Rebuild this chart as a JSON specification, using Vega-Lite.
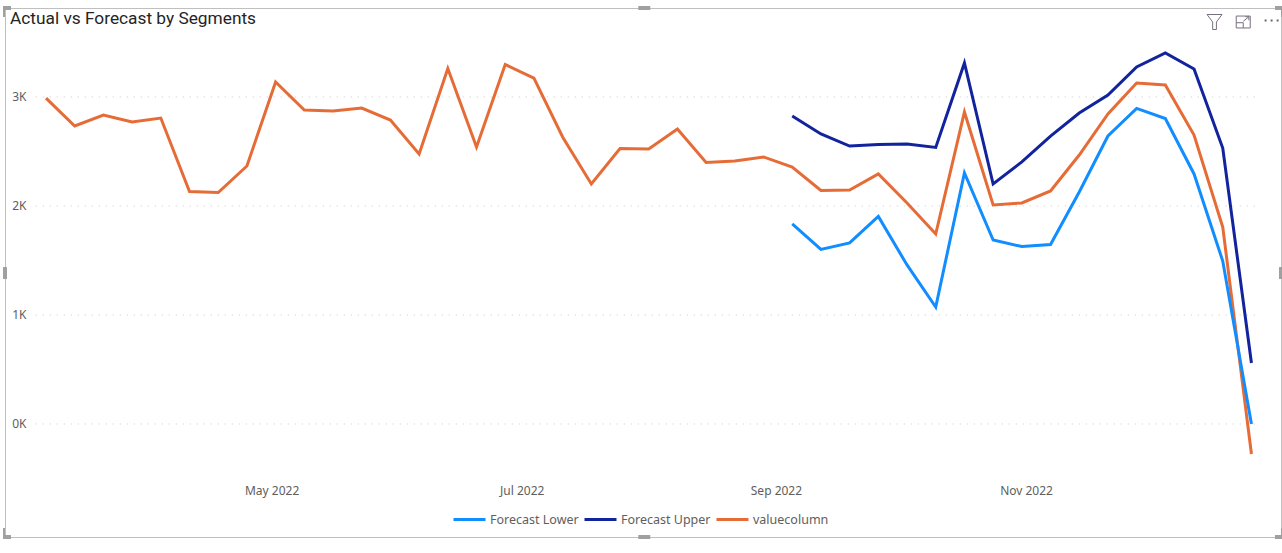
{"$schema":"https://vega.github.io/schema/vega-lite/v6.json","width":1276,"height":529,"autosize":"none","padding":{"left":5,"top":8,"right":1,"bottom":16},"background":"white","title":{"text":"Actual vs Forecast by Segments","anchor":"start","frame":"group","orient":"top","offset":-21,"dx":5,"font":"Roboto","fontSize":17.3,"fontWeight":"normal","color":"#252423"},"config":{"view":{"stroke":"#bfbfbf","strokeWidth":1},"font":"Noto Sans"},"datasets":{"grid":[{"k":0,"a":"2022-03-03T12:00:00Z","b":"2022-12-26T12:00:00Z"},{"k":1000,"a":"2022-03-03T12:00:00Z","b":"2022-12-26T12:00:00Z"},{"k":2000,"a":"2022-03-03T12:00:00Z","b":"2022-12-26T12:00:00Z"},{"k":3000,"a":"2022-03-03T12:00:00Z","b":"2022-12-26T12:00:00Z"}],"one":[{}],"main":[
{"d":"2022-03-06","s":"valuecolumn","v":2990},{"d":"2022-03-13","s":"valuecolumn","v":2734},{"d":"2022-03-20","s":"valuecolumn","v":2835},{"d":"2022-03-27","s":"valuecolumn","v":2770},{"d":"2022-04-03","s":"valuecolumn","v":2807},{"d":"2022-04-10","s":"valuecolumn","v":2133},{"d":"2022-04-17","s":"valuecolumn","v":2124},{"d":"2022-04-24","s":"valuecolumn","v":2367},{"d":"2022-05-01","s":"valuecolumn","v":3138},{"d":"2022-05-08","s":"valuecolumn","v":2880},{"d":"2022-05-15","s":"valuecolumn","v":2872},{"d":"2022-05-22","s":"valuecolumn","v":2899},{"d":"2022-05-29","s":"valuecolumn","v":2789},{"d":"2022-06-05","s":"valuecolumn","v":2477},{"d":"2022-06-12","s":"valuecolumn","v":3261},{"d":"2022-06-19","s":"valuecolumn","v":2541},{"d":"2022-06-26","s":"valuecolumn","v":3298},{"d":"2022-07-03","s":"valuecolumn","v":3174},{"d":"2022-07-10","s":"valuecolumn","v":2633},{"d":"2022-07-17","s":"valuecolumn","v":2202},{"d":"2022-07-24","s":"valuecolumn","v":2527},{"d":"2022-07-31","s":"valuecolumn","v":2523},{"d":"2022-08-07","s":"valuecolumn","v":2706},{"d":"2022-08-14","s":"valuecolumn","v":2399},{"d":"2022-08-21","s":"valuecolumn","v":2413},{"d":"2022-08-28","s":"valuecolumn","v":2450},{"d":"2022-09-04","s":"valuecolumn","v":2358},{"d":"2022-09-11","s":"valuecolumn","v":2142},{"d":"2022-09-18","s":"valuecolumn","v":2147},{"d":"2022-09-25","s":"valuecolumn","v":2294},{"d":"2022-10-02","s":"valuecolumn","v":2028},{"d":"2022-10-09","s":"valuecolumn","v":1743},{"d":"2022-10-16","s":"valuecolumn","v":2862},{"d":"2022-10-23","s":"valuecolumn","v":2009},{"d":"2022-10-30","s":"valuecolumn","v":2028},{"d":"2022-11-06","s":"valuecolumn","v":2138},{"d":"2022-11-13","s":"valuecolumn","v":2468},{"d":"2022-11-20","s":"valuecolumn","v":2844},{"d":"2022-11-27","s":"valuecolumn","v":3128},{"d":"2022-12-04","s":"valuecolumn","v":3110},{"d":"2022-12-11","s":"valuecolumn","v":2651},{"d":"2022-12-18","s":"valuecolumn","v":1807},{"d":"2022-12-25","s":"valuecolumn","v":-275},
{"d":"2022-09-04","s":"Forecast Upper","v":2826},{"d":"2022-09-11","s":"Forecast Upper","v":2661},{"d":"2022-09-18","s":"Forecast Upper","v":2550},{"d":"2022-09-25","s":"Forecast Upper","v":2564},{"d":"2022-10-02","s":"Forecast Upper","v":2569},{"d":"2022-10-09","s":"Forecast Upper","v":2537},{"d":"2022-10-16","s":"Forecast Upper","v":3312},{"d":"2022-10-23","s":"Forecast Upper","v":2202},{"d":"2022-10-30","s":"Forecast Upper","v":2404},{"d":"2022-11-06","s":"Forecast Upper","v":2642},{"d":"2022-11-13","s":"Forecast Upper","v":2853},{"d":"2022-11-20","s":"Forecast Upper","v":3018},{"d":"2022-11-27","s":"Forecast Upper","v":3275},{"d":"2022-12-04","s":"Forecast Upper","v":3404},{"d":"2022-12-11","s":"Forecast Upper","v":3257},{"d":"2022-12-18","s":"Forecast Upper","v":2532},{"d":"2022-12-25","s":"Forecast Upper","v":560},
{"d":"2022-09-04","s":"Forecast Lower","v":1835},{"d":"2022-09-11","s":"Forecast Lower","v":1601},{"d":"2022-09-18","s":"Forecast Lower","v":1661},{"d":"2022-09-25","s":"Forecast Lower","v":1904},{"d":"2022-10-02","s":"Forecast Lower","v":1459},{"d":"2022-10-09","s":"Forecast Lower","v":1073},{"d":"2022-10-16","s":"Forecast Lower","v":2303},{"d":"2022-10-23","s":"Forecast Lower","v":1688},{"d":"2022-10-30","s":"Forecast Lower","v":1628},{"d":"2022-11-06","s":"Forecast Lower","v":1647},{"d":"2022-11-13","s":"Forecast Lower","v":2128},{"d":"2022-11-20","s":"Forecast Lower","v":2642},{"d":"2022-11-27","s":"Forecast Lower","v":2895},{"d":"2022-12-04","s":"Forecast Lower","v":2803},{"d":"2022-12-11","s":"Forecast Lower","v":2294},{"d":"2022-12-18","s":"Forecast Lower","v":1495},{"d":"2022-12-25","s":"Forecast Lower","v":0}
]},
"layer":[
{"data":{"name":"grid"},"mark":{"type":"rule","color":"#c8c8c8","strokeWidth":1,"strokeDash":[1,6]},"encoding":{"y":{"field":"k","type":"quantitative","scale":{"domain":[-1036.7,3816.5],"nice":false,"zero":false},"axis":{"title":null,"grid":false,"domain":false,"ticks":false,"tickSize":0,"values":[0,1000,2000,3000],"labelExpr":"datum.value/1000+'K'","labelPadding":-21,"labelAlign":"right","labelFont":"Noto Sans","labelFontSize":12,"labelColor":"#605E5C"}},"x":{"field":"a","type":"temporal"},"x2":{"field":"b"}}},
{"data":{"name":"main"},"mark":{"type":"line","strokeWidth":3,"strokeJoin":"miter","strokeCap":"butt"},"encoding":{"x":{"field":"d","type":"temporal","scale":{"type":"utc","domain":[{"year":2022,"month":2,"date":24,"utc":true},{"year":2023,"month":1,"date":1,"hours":5,"utc":true}]},"axis":{"title":null,"grid":false,"domain":false,"ticks":false,"tickSize":0,"labelExpr":"utcFormat(datum.value,'%b %Y')","values":[{"year":2022,"month":5,"date":1,"utc":true},{"year":2022,"month":7,"date":1,"utc":true},{"year":2022,"month":9,"date":1,"utc":true},{"year":2022,"month":11,"date":1,"utc":true}],"labelPadding":-47,"labelOffset":-4,"labelBaseline":"middle","labelFont":"Noto Sans","labelFontSize":12,"labelColor":"#605E5C"}},"y":{"field":"v","type":"quantitative"},"color":{"field":"s","type":"nominal","scale":{"domain":["Forecast Lower","Forecast Upper","valuecolumn"],"range":["#118DFF","#12239E","#E66C37"]},"legend":{"title":null,"orient":"none","legendX":447,"legendY":494,"direction":"horizontal","columns":3,"symbolType":"stroke","symbolSize":1024,"symbolStrokeWidth":3,"labelFont":"Noto Sans","labelFontSize":12.5,"labelColor":"#605E5C","labelOffset":3,"columnPadding":-1}}}},
{"data":{"name":"one"},"mark":{"type":"point","shape":"M-1,-1H1L0.25,0V1H-0.25V0Z","size":225,"filled":false,"stroke":"#7a6f7f","strokeWidth":1,"opacity":1},"encoding":{"x":{"datum":{"year":2022,"month":12,"date":16,"utc":true},"type":"temporal"},"y":{"datum":3688,"type":"quantitative"}}},
{"data":{"name":"one"},"mark":{"type":"point","shape":"M-1,-0.85H1V0.85H-1Z M-1,0.1H0V0.85 M0,-0.1L0.8,-0.75M0.3,-0.75H0.8V-0.25","size":196,"filled":false,"stroke":"#7a6f7f","strokeWidth":1,"opacity":1},"encoding":{"x":{"datum":{"year":2022,"month":12,"date":23,"utc":true},"type":"temporal"},"y":{"datum":3688,"type":"quantitative"}}},
{"data":{"name":"one"},"mark":{"type":"point","shape":"M-1,-0.14H-0.72V0.14H-1Z M-0.14,-0.14H0.14V0.14H-0.14Z M0.72,-0.14H1V0.14H0.72Z","size":196,"filled":true,"fill":"#666666","strokeWidth":0,"opacity":1},"encoding":{"x":{"datum":{"year":2022,"month":12,"date":29,"hours":22,"utc":true},"type":"temporal"},"y":{"datum":3702,"type":"quantitative"}}},
{"data":{"name":"one"},"mark":{"type":"point","shape":"M-1,-0.33H1V0.33H-1Z","size":144,"filled":true,"fill":"#a0a0a0","strokeWidth":0,"opacity":1},"encoding":{"x":{"datum":{"year":2022,"month":7,"date":29,"hours":22,"utc":true},"type":"temporal"},"y":{"datum":3816.5,"type":"quantitative"}}},
{"data":{"name":"one"},"mark":{"type":"point","shape":"M-1,-0.33H1V0.33H-1Z","size":144,"filled":true,"fill":"#a0a0a0","strokeWidth":0,"opacity":1},"encoding":{"x":{"datum":{"year":2022,"month":7,"date":29,"hours":22,"utc":true},"type":"temporal"},"y":{"datum":-1036.7,"type":"quantitative"}}},
{"data":{"name":"one"},"mark":{"type":"point","shape":"M-0.33,-1H0.33V1H-0.33Z","size":144,"filled":true,"fill":"#a0a0a0","strokeWidth":0,"opacity":1},"encoding":{"x":{"datum":{"year":2022,"month":2,"date":24,"utc":true},"type":"temporal"},"y":{"datum":1385,"type":"quantitative"}}},
{"data":{"name":"one"},"mark":{"type":"point","shape":"M-0.33,-1H0.33V1H-0.33Z","size":144,"filled":true,"fill":"#a0a0a0","strokeWidth":0,"opacity":1},"encoding":{"x":{"datum":{"year":2023,"month":1,"date":1,"hours":5,"utc":true},"type":"temporal"},"y":{"datum":1385,"type":"quantitative"}}},
{"data":{"name":"one"},"mark":{"type":"point","shape":"M1,0.33H0V1.5H-0.33V-0.33H1Z","size":144,"filled":true,"fill":"#a0a0a0","strokeWidth":0,"opacity":1},"encoding":{"x":{"datum":{"year":2022,"month":2,"date":24,"utc":true},"type":"temporal"},"y":{"datum":3816.5,"type":"quantitative"}}},
{"data":{"name":"one"},"mark":{"type":"point","shape":"M-1,0.33H0V1.5H0.17V-0.33H-1Z","size":144,"filled":true,"fill":"#a0a0a0","strokeWidth":0,"opacity":1},"encoding":{"x":{"datum":{"year":2023,"month":1,"date":1,"hours":5,"utc":true},"type":"temporal"},"y":{"datum":3816.5,"type":"quantitative"}}},
{"data":{"name":"one"},"mark":{"type":"point","shape":"M1,-0.33H0V-1.5H-0.33V0.33H1Z","size":144,"filled":true,"fill":"#a0a0a0","strokeWidth":0,"opacity":1},"encoding":{"x":{"datum":{"year":2022,"month":2,"date":24,"utc":true},"type":"temporal"},"y":{"datum":-1036.7,"type":"quantitative"}}},
{"data":{"name":"one"},"mark":{"type":"point","shape":"M-1,-0.33H0V-1.5H0.17V0.33H-1Z","size":144,"filled":true,"fill":"#a0a0a0","strokeWidth":0,"opacity":1},"encoding":{"x":{"datum":{"year":2023,"month":1,"date":1,"hours":5,"utc":true},"type":"temporal"},"y":{"datum":-1036.7,"type":"quantitative"}}}
]}
